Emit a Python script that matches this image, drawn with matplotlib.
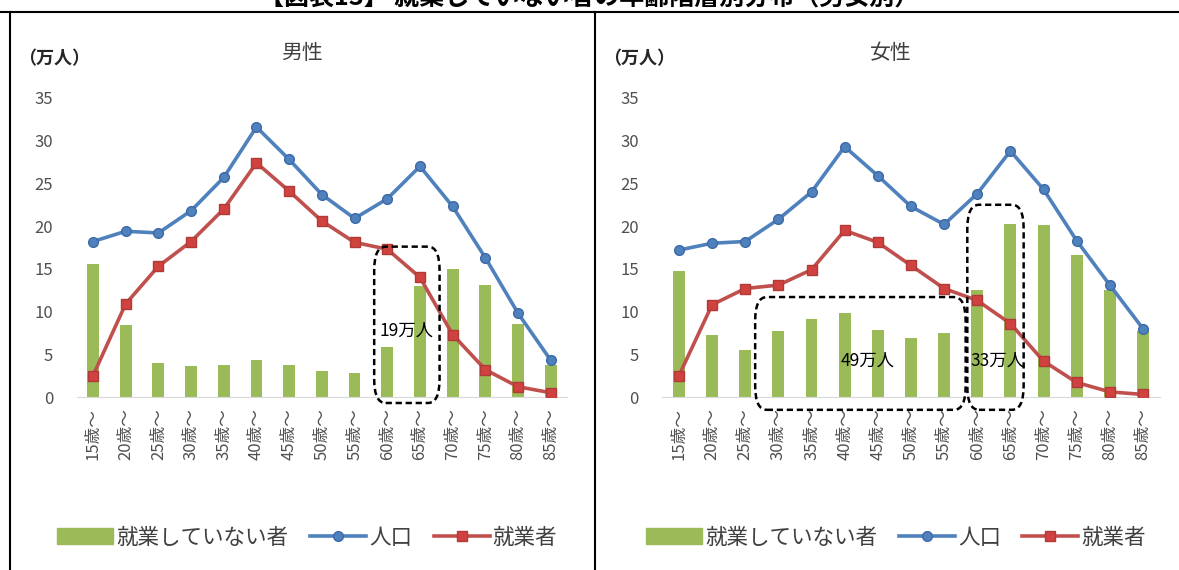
import numpy as np
import matplotlib
matplotlib.use('Agg')
import matplotlib.pyplot as plt
from matplotlib.patches import FancyBboxPatch, Patch
from matplotlib.lines import Line2D

plt.rcParams['font.family'] = ['Noto Sans CJK JP', 'DejaVu Sans']

ages = ['15歳～', '20歳～', '25歳～', '30歳～', '35歳～', '40歳～', '45歳～', '50歳～',
        '55歳～', '60歳～', '65歳～', '70歳～', '75歳～', '80歳～', '85歳～']

male_pop = [18.2, 19.4, 19.2, 21.8, 25.7, 31.6, 27.8, 23.7, 20.9, 23.2, 27.0, 22.3, 16.3, 9.8, 4.3]
male_emp = [2.5, 10.9, 15.3, 18.2, 22.0, 27.4, 24.1, 20.6, 18.1, 17.3, 14.0, 7.3, 3.2, 1.2, 0.5]
male_not = [15.6, 8.4, 4.0, 3.6, 3.7, 4.3, 3.8, 3.0, 2.8, 5.9, 13.0, 15.0, 13.1, 8.6, 3.8]

female_pop = [17.2, 18.0, 18.2, 20.8, 24.0, 29.3, 25.9, 22.3, 20.2, 23.8, 28.8, 24.3, 18.3, 13.1, 8.0]
female_emp = [2.5, 10.8, 12.7, 13.1, 14.9, 19.5, 18.1, 15.4, 12.7, 11.3, 8.6, 4.2, 1.7, 0.6, 0.3]
female_not = [14.7, 7.2, 5.5, 7.7, 9.1, 9.8, 7.8, 6.9, 7.5, 12.5, 20.2, 20.1, 16.6, 12.5, 7.7]

GREEN = '#9BBB59'
BLUE = '#4F81BD'
RED = '#C0504D'
GRAY = '#505050'


def draw_panel(ax, title, pop, emp, notw, boxes):
    x = np.arange(len(ages))
    ax.bar(x, notw, width=0.36, color=GREEN, zorder=1)
    ax.plot(x, pop, color=BLUE, lw=2.6, marker='o', ms=7,
            mfc=BLUE, mec='#3C6AA8', zorder=3)
    ax.plot(x, emp, color=RED, lw=2.6, marker='s', ms=7.5,
            mfc='#D0423F', mec='#B03A38', zorder=3)

    ax.set_xlim(-0.5, len(ages) - 0.5)
    ax.set_ylim(0, 35)
    ax.set_yticks(range(0, 36, 5))
    ax.set_xticks(x)
    ax.set_xticklabels(ages, rotation=90, fontsize=12, color=GRAY)
    ax.tick_params(axis='y', length=0, pad=17, labelsize=12, labelcolor=GRAY)
    ax.tick_params(axis='x', length=0, pad=8)
    for s in ['top', 'right', 'left']:
        ax.spines[s].set_visible(False)
    ax.spines['bottom'].set_color('#D9D9D9')

    ax.text(0.46, 1.15, title, transform=ax.transAxes, ha='center', va='center',
            fontsize=15, color='#404040')
    ax.text(-0.12, 1.13, '（万人）', transform=ax.transAxes, ha='left', va='center',
            fontsize=13, color='#262626', fontweight='bold')

    for x0, x1, y0, y1, label, lx, ly in boxes:
        box = FancyBboxPatch((x0, y0), x1 - x0, y1 - y0,
                             boxstyle='round,pad=0,rounding_size=0.35',
                             fill=False, ec='black', lw=1.8, ls=(0, (2.5, 1.5)),
                             clip_on=False, zorder=5,
                             mutation_aspect=8)
        ax.add_patch(box)
        ax.text(lx, ly, label, ha='center', va='center', fontsize=12.5,
                color='black', zorder=6)

    handles = [Patch(color=GREEN),
               Line2D([], [], color=BLUE, lw=2.6, marker='o', ms=7, mfc=BLUE, mec='#3C6AA8'),
               Line2D([], [], color=RED, lw=2.6, marker='s', ms=7.5, mfc='#D0423F', mec='#B03A38')]
    ax.legend(handles, ['就業していない者', '人口', '就業者'], loc='center',
              bbox_to_anchor=(0.47, -0.47), ncol=3, frameon=False,
              fontsize=15.5, handlelength=2.6, handletextpad=0.15,
              columnspacing=1.0, labelcolor='#404040')


fig = plt.figure(figsize=(11.79, 5.70), dpi=100)
ax1 = fig.add_axes([0.065, 0.3035, 0.416, 0.5246])
ax2 = fig.add_axes([0.5618, 0.3035, 0.4217, 0.5246])

draw_panel(ax1, '男性', male_pop, male_emp, male_not,
           [(8.6, 10.6, -0.7, 17.6, '19万人', 9.6, 7.8)])
draw_panel(ax2, '女性', female_pop, female_emp, female_not,
           [(2.3, 8.65, -1.5, 11.7, '49万人', 5.7, 4.3),
            (8.7, 10.4, -1.5, 22.5, '33万人', 9.6, 4.3)])

# frame around the two panels
fig.add_artist(Line2D([0.0, 1.0], [0.979, 0.979], color='black', lw=1.5))
fig.add_artist(Line2D([0.0085, 0.0085], [0.0, 0.979], color='black', lw=1.5))
fig.add_artist(Line2D([0.505, 0.505], [0.0, 0.979], color='black', lw=1.5))
fig.text(0.5, 1.003, '【図表13】 就業していない者の年齢階層別分布（男女別）',
         ha='center', va='center', fontsize=18, fontweight='bold')

fig.savefig('out.png', dpi=100)
